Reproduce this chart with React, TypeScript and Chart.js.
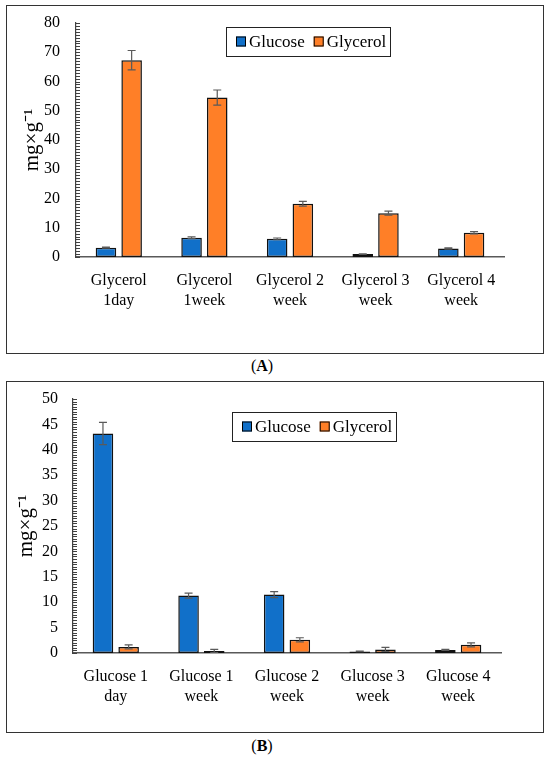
import { useEffect, useRef } from "react";
import { Chart, ChartConfiguration, Plugin, registerables } from "chart.js";

Chart.register(...registerables);

const seriesNames = ["Glucose", "Glycerol"];
const seriesColors = ["#1170C9", "#FF7F27"];

// panel A
const labelsA = [
  ["Glycerol", "1day"],
  ["Glycerol", "1week"],
  ["Glycerol 2", "week"],
  ["Glycerol 3", "week"],
  ["Glycerol 4", "week"],
];
const glucoseA = [3.2, 6.6, 6.2, 1.0, 2.9];
const glucoseErrA = [0.2, 0.3, 0.3, 0.1, 0.2];
const glycerolA = [67.3, 54.5, 18.2, 15.0, 8.3];
const glycerolErrA = [3.3, 2.6, 0.8, 0.7, 0.4];
const yMaxA = 80;
const yStepA = 10;
const yMinorA = 1;

// panel B
const labelsB = [
  ["Glucose 1", "day"],
  ["Glucose 1", "week"],
  ["Glucose 2", "week"],
  ["Glucose 3", "week"],
  ["Glucose 4", "week"],
];
const glucoseB = [43.2, 11.3, 11.5, 0.3, 0.6];
const glucoseErrB = [2.2, 0.5, 0.6, 0.05, 0.1];
const glycerolB = [1.2, 0.4, 2.6, 0.7, 1.6];
const glycerolErrB = [0.4, 0.3, 0.4, 0.4, 0.4];
const yMaxB = 50;
const yStepB = 5;
const yMinorB = 0.5;

const FONT = "'Liberation Serif', 'Times New Roman', serif";

const errorBars: Plugin = {
  id: "errorBars",
  afterDatasetsDraw(chart, _args, opts: any) {
    const errs: number[][] = opts.errors;
    const y = chart.scales.y;
    const ctx = chart.ctx;
    ctx.save();
    ctx.strokeStyle = "#5a5a5a";
    ctx.lineWidth = 1.2;
    chart.data.datasets.forEach((ds, i) => {
      const meta = chart.getDatasetMeta(i);
      meta.data.forEach((bar: any, j) => {
        const v = ds.data[j] as number;
        const e = errs[i][j];
        const top = y.getPixelForValue(v + e);
        const bot = y.getPixelForValue(Math.max(0, v - e));
        const x = bar.x;
        ctx.beginPath();
        ctx.moveTo(x, top);
        ctx.lineTo(x, bot);
        ctx.moveTo(x - 4, top);
        ctx.lineTo(x + 4, top);
        ctx.moveTo(x - 4, bot);
        ctx.lineTo(x + 4, bot);
        ctx.stroke();
      });
    });
    ctx.restore();
  },
};

// small inward ticks on the y axis
const minorTicks: Plugin = {
  id: "minorTicks",
  afterDraw(chart, _args, opts: any) {
    const y = chart.scales.y;
    const left = chart.chartArea.left;
    const ctx = chart.ctx;
    ctx.save();
    ctx.strokeStyle = "#404040";
    ctx.lineWidth = 1;
    const n = Math.round((y.max - y.min) / opts.step);
    for (let k = 0; k <= n; k++) {
      const py = Math.round(y.getPixelForValue(y.min + k * opts.step)) + 0.5;
      ctx.beginPath();
      ctx.moveTo(left, py);
      ctx.lineTo(left + 4, py);
      ctx.stroke();
    }
    ctx.restore();
  },
};

const boxLegend: Plugin = {
  id: "boxLegend",
  afterDraw(chart, _args, opts: any) {
    const ctx = chart.ctx;
    ctx.save();
    ctx.fillStyle = "#fff";
    ctx.fillRect(opts.x, opts.y, opts.w, opts.h);
    ctx.strokeStyle = "#222";
    ctx.lineWidth = 1;
    ctx.strokeRect(opts.x + 0.5, opts.y + 0.5, opts.w, opts.h);
    ctx.font = `17px ${FONT}`;
    ctx.textBaseline = "middle";
    const cy = opts.y + opts.h / 2;
    let x = opts.x + 10;
    chart.data.datasets.forEach((ds: any) => {
      ctx.fillStyle = ds.backgroundColor;
      ctx.fillRect(x, cy - 5, 10, 10);
      ctx.strokeStyle = "#000";
      ctx.strokeRect(x + 0.5, cy - 4.5, 9, 9);
      ctx.fillStyle = "#000";
      ctx.fillText(ds.label, x + 13, cy + 1);
      x += 13 + ctx.measureText(ds.label).width + 9;
    });
    ctx.restore();
  },
};

interface PanelProps {
  labels: string[][];
  glucose: number[];
  glycerol: number[];
  errors: number[][];
  yMax: number;
  yStep: number;
  yMinor: number;
  top: number;
  height: number;
  yWidth: number;
  tickPad: number;
  titlePad: number;
  padTop: number;
  padRight: number;
  xHeight: number;
  legend: { x: number; y: number; w: number; h: number };
}

function Panel(p: PanelProps) {
  const canvasRef = useRef<HTMLCanvasElement>(null);

  useEffect(() => {
    if (!canvasRef.current) return;
    const ctx = canvasRef.current.getContext("2d");
    if (!ctx) return;

    const config: ChartConfiguration<"bar"> = {
      type: "bar",
      data: {
        labels: p.labels,
        datasets: [p.glucose, p.glycerol].map((d, i) => ({
          label: seriesNames[i],
          data: d,
          backgroundColor: seriesColors[i],
          borderColor: "#111",
          borderWidth: 1.5,
          borderSkipped: false,
          categoryPercentage: 0.6,
          barPercentage: 0.8,
        })),
      },
      options: {
        responsive: true,
        maintainAspectRatio: false,
        animation: false,
        layout: { padding: { left: 0, top: p.padTop, right: p.padRight, bottom: 0 } },
        plugins: {
          legend: { display: false },
          tooltip: { enabled: false },
          errorBars: { errors: p.errors },
          minorTicks: { step: p.yMinor },
          boxLegend: p.legend,
        } as any,
        scales: {
          x: {
            grid: { display: false, drawTicks: false },
            border: { color: "#595959", width: 1.5 },
            ticks: {
              color: "#000",
              font: { family: FONT, size: 16, lineHeight: 1.25 },
              padding: 14,
              maxRotation: 0,
              autoSkip: false,
            },
            afterFit: (s: any) => {
              s.height = p.xHeight;
            },
          },
          y: {
            min: 0,
            max: p.yMax,
            grid: { display: false, drawTicks: false },
            border: { color: "#404040", width: 1.2 },
            ticks: {
              stepSize: p.yStep,
              color: "#000",
              font: { family: FONT, size: 16 },
              padding: p.tickPad,
            },
            title: {
              display: true,
              text: "mg×g⁻¹",
              color: "#000",
              font: { family: FONT, size: 21, lineHeight: 1.2 },
              padding: { top: p.titlePad, bottom: 0 },
            },
            afterFit: (s: any) => {
              s.width = p.yWidth;
              s.paddingTop = 0;
              s.paddingBottom = 0;
            },
          },
        },
      },
      plugins: [errorBars, minorTicks, boxLegend],
    };

    const chart = new Chart(ctx, config);
    return () => chart.destroy();
  }, []);

  return (
    <div
      style={{
        position: "absolute",
        left: 6,
        top: p.top,
        width: 536,
        height: p.height,
        border: "1px solid #333",
        background: "#fff",
      }}
    >
      <div style={{ position: "relative", width: 536, height: p.height }}>
        <canvas ref={canvasRef} />
      </div>
    </div>
  );
}

function Caption({ top, letter }: { top: number; letter: string }) {
  return (
    <div
      style={{
        position: "absolute",
        left: 0,
        top,
        width: 524,
        textAlign: "center",
        fontFamily: FONT,
        fontSize: 16,
        lineHeight: "20px",
        color: "#000",
      }}
    >
      (<b>{letter}</b>)
    </div>
  );
}

export default function App() {
  return (
    <div style={{ position: "absolute", left: 0, top: 0, width: 550, height: 757, background: "#fff" }}>
      <Panel
        labels={labelsA}
        glucose={glucoseA}
        glycerol={glycerolA}
        errors={[glucoseErrA, glycerolErrA]}
        yMax={yMaxA}
        yStep={yStepA}
        yMinor={yMinorA}
        top={5}
        height={347}
        yWidth={69}
        tickPad={16}
        titlePad={13}
        padTop={17}
        padRight={39}
        xHeight={96}
        legend={{ x: 219, y: 21, w: 164, h: 29 }}
      />
      <Caption top={356} letter="A" />
      <Panel
        labels={labelsB}
        glucose={glucoseB}
        glycerol={glycerolB}
        errors={[glucoseErrB, glycerolErrB]}
        yMax={yMaxB}
        yStep={yStepB}
        yMinor={yMinorB}
        top={381}
        height={350}
        yWidth={66}
        tickPad={15}
        titlePad={7}
        padTop={17}
        padRight={42}
        xHeight={79}
        legend={{ x: 225, y: 30, w: 164, h: 29 }}
      />
      <Caption top={736} letter="B" />
    </div>
  );
}
